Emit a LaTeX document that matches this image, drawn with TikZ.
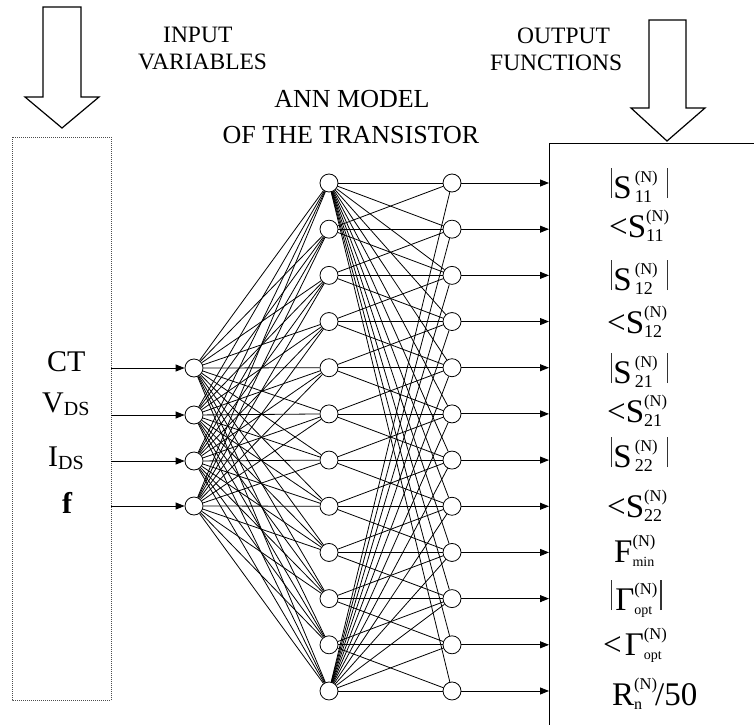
\documentclass[tikz,border=0pt]{standalone}
\usepackage{fontspec}
\setmainfont{Liberation Serif}
\usetikzlibrary{arrows.meta}
\newcommand\SupSub[2]{{\setbox0=\hbox{\fontsize{16.5}{16.5}\selectfont #1}\setbox2=\hbox{\fontsize{18}{18}\selectfont #2}\ifdim\wd0>\wd2\relax\dimen0=\wd0\else\dimen0=\wd2\fi\hbox to\dimen0{\rlap{\raise 16pt\box0}\lower 4pt\box2\hfil}}}
\newcommand\Vb{{\color{black!80}\vrule height 30pt depth 0pt width 1.2pt}}
\begin{document}
\begin{tikzpicture}[x=1pt,y=-1pt,
  neuron/.style={circle,draw,line width=0.8pt,minimum size=18pt,inner sep=0pt,fill=white},
  conn/.style={line width=0.8pt},
  inarrow/.style={line width=0.9pt,-{Triangle[length=9pt,width=7pt]}},
  blockarrow/.style={line width=1.2pt,line join=miter},
  lbl/.style={inner sep=0pt,anchor=base west},
  title/.style={lbl,font=\fontsize{23.5}{23.5}\selectfont},
  anntitle/.style={inner sep=0pt,anchor=base,font=\fontsize{26}{26}\selectfont},
  inlbl/.style={lbl,font=\fontsize{30}{30}\selectfont},
  outlbl/.style={lbl,font=\fontsize{33}{33}\selectfont}]
\useasboundingbox (0,0) rectangle (754,725);
% block arrows
\draw[blockarrow] (43,7) -- (81,7) -- (81,97) -- (99,97) -- (62,128) -- (25,97) -- (43,97) -- cycle;
\draw[blockarrow] (649,20) -- (686,20) -- (686,108) -- (705,108) -- (667,141) -- (631,108) -- (649,108) -- cycle;
% titles
\node[title] (tin1) at (163,42) {INPUT};
\node[title] (tin2) at (138,70) {VARIABLES};
\node[title] (tout1) at (517,44) {OUTPUT};
\node[title] (tout2) at (490,70.5) {FUNCTIONS};
\node[anntitle] (tann1) at (352,107) {ANN MODEL};
\node[anntitle] (tann2) at (351,143) {OF THE TRANSISTOR};
% input box (dotted)
\draw[densely dotted,line width=1pt,black!70] (12,137) rectangle (111,700);
% output box (open)
\coordinate (bxtl) at (549,143);
\coordinate (bxtr) at (754,143);
\coordinate (bxbl) at (549,725);
\draw[line width=1pt] (bxtr) -- (bxtl) -- (bxbl);
% nodes
\foreach \a/\yy in {1/368,2/415,3/461,4/506}{
  \node[neuron] (i\a) at (194,\yy) {};
  \coordinate (ib\a) at (111,\yy);
}
\foreach \k in {1,...,12}{
  \node[neuron] (h\k) at (329,{183+46.18*(\k-1)}) {};
  \node[neuron] (o\k) at (452,{183+46.18*(\k-1)}) {};
  \coordinate (ob\k) at (549,{183+46.18*(\k-1)});
}
% connections
\foreach \a in {1,...,4}{\foreach \b in {1,...,12}{\draw[conn] (i\a) -- (h\b);}}
\foreach \b in {1,...,12}{\draw[conn] (h1) -- (o\b); \draw[conn] (h12) -- (o\b);}
\foreach \k in {2,...,11}{
  \foreach \d in {-1,0,1}{
    \pgfmathtruncatemacro\t{\k+\d}
    \draw[conn] (h\k) -- (o\t);
  }
}
\foreach \a in {1,...,4}{\draw[inarrow] (ib\a) -- (i\a);}
\foreach \k in {1,...,12}{\draw[inarrow] (o\k) -- (ob\k);}
% input labels
\node[inlbl] (lCT) at (47,371) {CT};
\node[inlbl] (lV) at (42,412) {V\lower3pt\hbox{\fontsize{20}{20}\selectfont DS}};
\node[inlbl] (lI) at (48,466) {I\lower3pt\hbox{\fontsize{20}{20}\selectfont DS}};
\node[inlbl] (lf) at (62,513) {\bfseries f};
% output labels
\node[outlbl] (L1) at (611,198) {\Vb\kern1pt S\kern3pt\SupSub{(N)}{11}\kern9pt\Vb};
\node[outlbl] (L2) at (609,237) {<S\SupSub{(N)}{11}};
\node[outlbl] (L3) at (611,290) {\Vb\kern1pt S\kern3pt\SupSub{(N)}{12}\kern9pt\Vb};
\node[outlbl] (L4) at (607,333) {<S\SupSub{(N)}{12}};
\node[outlbl] (L5) at (611,383) {\Vb\kern1pt S\kern3pt\SupSub{(N)}{21}\kern9pt\Vb};
\node[outlbl] (L6) at (607,422) {<S\SupSub{(N)}{21}};
\node[outlbl] (L7) at (611,467) {\Vb\kern1pt S\kern3pt\SupSub{(N)}{22}\kern9pt\Vb};
\node[outlbl] (L8) at (607,517) {<S\SupSub{(N)}{22}};
\node[outlbl] (L9) at (614,562) {F\SupSub{(N)}{\fontsize{14}{14}\selectfont min}};
\node[outlbl] (L10) at (611,610) {\Vb\kern3ptΓ\SupSub{(N)}{\fontsize{14}{14}\selectfont opt}\kern3pt\Vb};
\node[outlbl] (L11) at (603,655) {<\kern3ptΓ\SupSub{(N)}{\fontsize{14}{14}\selectfont opt}};
\node[outlbl] (L12) at (612,705) {R\SupSub{(N)}{\fontsize{16}{16}\selectfont n}\kern-2pt/50};
\end{tikzpicture}
\end{document}
